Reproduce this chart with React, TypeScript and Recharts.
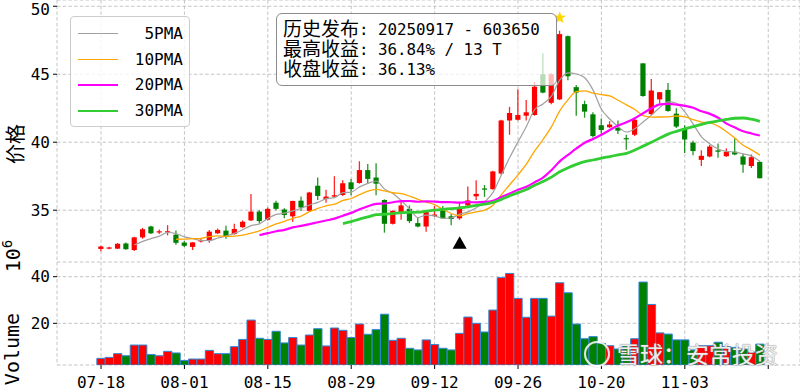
import React from 'react';
import { ComposedChart, Bar, Line, XAxis, YAxis, CartesianGrid, Scatter, Cell } from 'recharts';

const dates = [
  '07-18','07-21','07-22','07-23','07-24','07-25','07-28','07-29','07-30','07-31',
  '08-01','08-04','08-05','08-06','08-07','08-08','08-11','08-12','08-13','08-14',
  '08-15','08-18','08-19','08-20','08-21','08-22','08-25','08-26','08-27','08-28',
  '08-29','09-01','09-02','09-03','09-04','09-05','09-08','09-09','09-10','09-11',
  '09-12','09-15','09-16','09-17','09-18','09-19','09-22','09-23','09-24','09-25',
  '09-26','09-29','09-30','10-09','10-10','10-13','10-14','10-15','10-16','10-17',
  '10-20','10-21','10-22','10-23','10-24','10-27','10-28','10-29','10-30','10-31',
  '11-03','11-04','11-05','11-06','11-07','11-10','11-11','11-12','11-13','11-14',
];

const opens = [
  32.15,32.18,32.17,32.55,32.07,33.0,33.8,33.37,33.37,33.2,
  32.62,32.3,32.7,32.8,33.3,33.5,33.25,33.75,34.25,34.9,
  34.3,35.55,35.05,34.55,35.7,34.95,36.8,35.82,36.0,36.12,
  37.05,37.0,37.95,37.4,35.75,34.0,34.72,35.1,34.05,33.8,
  34.58,35.0,34.55,34.4,35.35,36.02,36.6,36.55,37.7,41.6,
  41.65,41.95,42.0,45.0,42.9,43.15,47.8,44.05,42.8,42.05,
  41.25,41.1,41.05,40.3,40.55,45.8,42.07,43.15,43.85,42.1,
  41.0,39.97,38.7,38.95,39.4,38.97,39.3,38.95,38.25,38.55,
];
const highs = [
  32.38,32.32,32.58,32.62,33.05,33.7,33.85,33.58,33.9,33.5,
  32.72,32.65,32.88,33.55,33.65,33.85,34.0,34.25,36.2,35.0,
  35.2,35.7,35.15,35.7,36.0,36.35,37.4,36.5,37.5,37.2,
  37.3,38.6,38.4,38.45,35.8,35.0,35.6,35.35,34.5,35.0,
  35.3,35.3,34.72,35.62,36.75,37.2,36.85,37.9,41.65,42.6,
  43.9,43.1,44.45,46.55,45.1,48.2,47.85,44.2,43.05,42.2,
  41.75,41.55,41.6,40.55,41.75,45.8,44.65,43.7,44.35,42.5,
  41.25,40.1,39.4,39.8,39.9,39.55,40.3,39.15,39.1,38.6,
];
const lows = [
  31.98,32.12,32.15,32.1,32.0,32.9,33.25,33.25,33.15,32.45,
  32.3,32.07,32.62,32.6,33.25,32.9,33.2,33.7,34.2,34.05,
  34.25,35.0,34.4,34.15,34.95,34.9,35.75,35.55,35.9,36.05,
  36.1,36.95,36.95,36.1,33.35,33.95,34.3,34.05,33.75,33.42,
  34.5,34.35,33.9,34.3,35.3,35.75,35.98,36.5,37.6,40.55,
  41.6,41.6,41.95,43.6,42.8,43.1,44.55,41.95,41.8,40.35,
  40.65,41.05,40.6,39.45,40.45,43.35,42.0,42.86,42.25,41.05,
  39.2,39.05,38.25,38.9,38.85,38.93,39.05,37.75,38.1,37.35,
];
const closes = [
  32.33,32.26,32.53,32.13,33.0,33.6,33.3,33.45,33.45,32.6,
  32.38,32.63,32.8,33.42,33.55,33.1,33.62,34.15,34.9,34.2,
  35.1,35.1,34.65,35.68,35.2,36.3,36.05,36.0,36.1,36.98,
  36.55,37.95,37.3,36.95,34.0,34.95,35.35,34.2,33.8,34.9,
  34.68,34.4,34.35,35.22,35.72,36.2,36.55,37.85,41.6,42.15,
  42.0,42.2,44.08,43.65,45.0,47.95,44.85,43.65,42.25,40.45,
  40.9,41.3,40.85,40.25,41.65,43.4,43.8,43.68,42.3,41.15,
  40.2,39.35,39.0,39.68,39.3,39.3,39.1,38.35,38.9,37.35,
];
// volume in 10^6
const volumes = [
  5.0,5.4,7.0,6.1,10.7,10.7,6.6,6.1,8.0,7.3,
  4.1,4.7,4.7,8.4,7.0,7.0,10.0,13.1,21.4,13.6,
  13.1,16.6,11.6,13.9,10.7,15.0,17.7,10.3,18.0,17.0,
  13.9,19.7,15.3,17.3,23.9,12.7,13.6,9.3,8.6,12.9,
  10.9,9.3,8.6,15.7,22.7,20.0,16.3,25.7,39.6,41.4,
  30.7,22.6,30.7,30.7,23.1,37.4,33.1,19.7,13.4,14.3,
  11.4,10.4,9.0,10.4,13.4,37.7,28.1,15.9,15.4,12.9,
  12.9,8.6,10.4,10.4,11.9,10.0,9.7,9.0,7.7,11.1,
];

const maPeriods = [5, 10, 20, 30];
const maLabels = ['5PMA', '10PMA', '20PMA', '30PMA'];
const maColors = ['#a0a0a0', '#ffa500', '#ff00ff', '#32cd32'];
const maWidths = [1.2, 1.3, 2.2, 2.8];

const tickIdx = [0, 10, 20, 30, 40, 50, 60, 70, 80];
const priceTicks = [35, 40, 45, 50];
const volTicks = [20, 40];

// release marker (below the low of release day) and peak star (above the max high)
const releaseIdx = [43];
const releaseMark = [32.6];
const peakIdx = [55];
const peakMark = [49.16];

const annoLabels = ['历史发布', '最高收益', '收盘收益'];
const annoValues = [': 20250917 - 603650', ': 36.84% / 13 T', ': 36.13%'];

const UP = '#ff0000';
const DOWN = '#008000';

function sma(arr: number[], n: number): (number | null)[] {
  return arr.map((_, i) => {
    if (i < n - 1) return null;
    let s = 0;
    for (let k = i - n + 1; k <= i; k++) s += arr[k];
    return s / n;
  });
}

const maSeries = maPeriods.map((p) => sma(closes, p));

const data = dates.map((d, i) => {
  const row: any = {
    i,
    date: d,
    open: opens[i],
    high: highs[i],
    low: lows[i],
    close: closes[i],
    volume: volumes[i],
    up: closes[i] >= opens[i],
  };
  maPeriods.forEach((p, k) => {
    row['ma' + p] = maSeries[k][i];
  });
  return row;
});

const releaseData = releaseIdx.map((i, k) => ({ i, y: releaseMark[k] }));
const peakData = peakIdx.map((i, k) => ({ i, y: peakMark[k] }));

const MONO = '"DejaVu Sans Mono", monospace';
const CJK = '"Noto Sans CJK SC", sans-serif';
const CJK_TIGHT = '"CJKTight", "Noto Sans CJK SC", sans-serif';

const fontCss = `
@font-face {
  font-family: 'CJKTight';
  src: local('Noto Sans CJK SC'), local('Noto Sans CJK SC Regular'), local('NotoSansCJKsc-Regular'), local('NotoSansCJKSC-Regular');
  ascent-override: 86%;
  descent-override: 14%;
  line-gap-override: 0%;
}
`;

const Candle = (props: any) => {
  const { x, y, width, height, payload } = props;
  if (!payload) return null;
  const { open, close, high, low } = payload;
  const top = Math.min(y, y + height);
  const h = Math.abs(height);
  const span = high - low;
  const py = (v: number) => (span > 0 ? top + ((high - v) / span) * h : top);
  const up = close >= open;
  const color = up ? UP : DOWN;
  const cx = x + width / 2;
  const bw = 5.2;
  const yo = py(open);
  const yc = py(close);
  const bt = Math.min(yo, yc);
  const bh = Math.max(Math.abs(yo - yc), 1.2);
  return (
    <g>
      <line x1={cx} x2={cx} y1={top} y2={top + h} stroke={color} strokeWidth={1.3} strokeOpacity={0.85} />
      <rect x={cx - bw / 2} y={bt} width={bw} height={bh} fill={color} />
    </g>
  );
};

const Triangle = (props: any) => {
  const { cx, cy } = props;
  return <polygon points={`${cx},${cy - 6.5} ${cx - 7},${cy + 6} ${cx + 7},${cy + 6}`} fill="#000" />;
};

const Star = (props: any) => {
  const { cx, cy } = props;
  const pts: string[] = [];
  for (let k = 0; k < 10; k++) {
    const r = k % 2 === 0 ? 6.5 : 2.7;
    const a = -Math.PI / 2 + (k * Math.PI) / 5;
    pts.push(`${cx + r * Math.cos(a)},${cy + r * Math.sin(a)}`);
  }
  return <polygon points={pts.join(' ')} fill="#ffd700" />;
};

const W = 800;
const PRICE_H = 262;
const VOL_H = 129;
const X_DOMAIN: [number, number] = [-5.28, 83.81];
const GRID = '#c4c4c4';

const tickStyle = { fontFamily: MONO, fontSize: 16, fill: '#000' };

export default function App() {
  return (
    <div style={{ position: 'absolute', left: 0, top: 0, width: W, height: 391, background: '#fff', overflow: 'hidden' }}>
      <style>{fontCss}</style>
      <div style={{ position: 'absolute', left: 0, top: 0 }}>
        <ComposedChart width={W} height={PRICE_H} data={data} margin={{ top: 0, right: 0, bottom: 0, left: 0 }}>
          <CartesianGrid stroke={GRID} strokeDasharray="3.5 2.2" />
          <XAxis dataKey="i" type="number" domain={X_DOMAIN} ticks={tickIdx} allowDataOverflow hide />
          <YAxis
            type="number"
            domain={[31.19, 50.46]}
            ticks={priceTicks}
            allowDataOverflow
            width={57}
            axisLine={false}
            tickSize={4}
            tickMargin={3}
            tickLine={{ stroke: '#000' }}
            tick={tickStyle}
          />
          <Bar dataKey={(d: any) => [d.low, d.high]} barSize={6} shape={<Candle />} isAnimationActive={false} />
          {maPeriods.map((p, k) => (
            <Line
              key={p}
              dataKey={'ma' + p}
              type="monotone"
              stroke={maColors[k]}
              strokeWidth={maWidths[k]}
              dot={false}
              activeDot={false}
              isAnimationActive={false}
              connectNulls={false}
            />
          ))}
          <Scatter data={releaseData} dataKey="y" shape={<Triangle />} isAnimationActive={false} />
          <Scatter data={peakData} dataKey="y" shape={<Star />} isAnimationActive={false} />
        </ComposedChart>
      </div>
      <div style={{ position: 'absolute', left: 0, top: PRICE_H }}>
        <ComposedChart width={W} height={VOL_H} data={data} margin={{ top: 0, right: 0, bottom: 0, left: 0 }}>
          <CartesianGrid stroke={GRID} strokeDasharray="3.5 2.2" />
          <XAxis
            dataKey="i"
            type="number"
            domain={X_DOMAIN}
            ticks={tickIdx}
            allowDataOverflow
            height={26}
            axisLine={false}
            tickSize={4}
            tickMargin={8}
            tickLine={{ stroke: '#000' }}
            tick={tickStyle}
            tickFormatter={(v: number) => (dates[v] && v < dates.length ? dates[v] : '')}
          />
          <YAxis
            type="number"
            domain={[2.14, 46.3]}
            ticks={volTicks}
            allowDataOverflow
            width={57}
            axisLine={false}
            tickSize={4}
            tickMargin={3}
            tickLine={{ stroke: '#000' }}
            tick={tickStyle}
          />
          <Bar dataKey="volume" barSize={8.3} stroke="#2f86d8" strokeWidth={1} isAnimationActive={false}>
            {data.map((d, k) => (
              <Cell key={k} fill={d.up ? UP : DOWN} />
            ))}
          </Bar>
        </ComposedChart>
      </div>

      {/* legend */}
      <div
        style={{
          position: 'absolute',
          left: 70,
          top: 16,
          width: 120,
          height: 111,
          border: '1px solid #cccccc',
          borderRadius: 4,
          background: 'rgba(255,255,255,0.8)',
          boxSizing: 'border-box',
        }}
      >
        {maLabels.map((lab, k) => (
          <div key={lab} style={{ position: 'absolute', left: 0, top: 6 + k * 25.5, width: 120, height: 22 }}>
            <div
              style={{
                position: 'absolute',
                left: 7,
                top: 10,
                width: 40,
                height: 0,
                borderTop: `${maWidths[k]}px solid ${maColors[k]}`,
              }}
            />
            <div
              style={{
                position: 'absolute',
                right: 8,
                top: 0,
                fontFamily: MONO,
                fontSize: 16,
                lineHeight: '22px',
                color: '#000',
              }}
            >
              {lab}
            </div>
          </div>
        ))}
      </div>

      {/* annotation box */}
      <div
        style={{
          position: 'absolute',
          left: 276,
          top: 13,
          width: 281,
          height: 73,
          border: '1.5px solid #8c8c8c',
          borderRadius: 6,
          background: 'rgba(255,255,255,0.72)',
          boxSizing: 'border-box',
          paddingLeft: 6,
          paddingTop: 6,
          color: '#000',
          whiteSpace: 'nowrap',
        }}
      >
        {annoLabels.map((a, k) => (
          <div key={a} style={{ height: 20, lineHeight: '20px', overflow: 'visible' }}>
            <span
              style={{
                display: 'inline-block',
                height: 20,
                lineHeight: '20px',
                verticalAlign: 'top',
                fontFamily: CJK_TIGHT,
                fontSize: 19,
              }}
            >
              {a}
            </span>
            <span
              style={{
                display: 'inline-block',
                height: 20,
                lineHeight: '20px',
                verticalAlign: 'top',
                fontFamily: MONO,
                fontSize: 15.8,
                whiteSpace: 'pre',
              }}
            >
              {annoValues[k]}
            </span>
          </div>
        ))}
      </div>

      {/* axis labels */}
      <div
        style={{
          position: 'absolute',
          left: 14,
          top: 144,
          transform: 'translate(-50%,-50%) rotate(-90deg)',
          fontFamily: CJK,
          fontSize: 20,
          color: '#000',
          whiteSpace: 'nowrap',
        }}
      >
        价格
      </div>
      <div
        style={{
          position: 'absolute',
          left: 12,
          top: 349,
          transform: 'translate(-50%,-50%) rotate(-90deg)',
          fontFamily: MONO,
          fontSize: 20,
          color: '#000',
          whiteSpace: 'nowrap',
        }}
      >
        Volume
      </div>
      <div
        style={{
          position: 'absolute',
          left: 12,
          top: 256,
          transform: 'translate(-50%,-50%) rotate(-90deg)',
          fontFamily: MONO,
          fontSize: 20,
          color: '#000',
          whiteSpace: 'nowrap',
        }}
      >
        10<sup style={{ fontSize: 14 }}>6</sup>
      </div>

      {/* watermark */}
      <div
        style={{
          position: 'absolute',
          left: 584,
          top: 341,
          width: 26,
          height: 26,
          borderRadius: '50%',
          border: '2.5px solid rgba(255,255,255,0.85)',
          boxShadow: '0 0 1px #999, inset 0 0 1px #999',
          boxSizing: 'border-box',
        }}
      />
      <div
        style={{
          position: 'absolute',
          left: 617,
          top: 338,
          fontFamily: CJK,
          fontSize: 23,
          lineHeight: '30px',
          color: 'rgba(255,255,255,0.85)',
          textShadow: '0 0 1px #8a8a8a, 0 0 1px #8a8a8a',
          whiteSpace: 'nowrap',
        }}
      >
        雪球：安常投资
      </div>
    </div>
  );
}
